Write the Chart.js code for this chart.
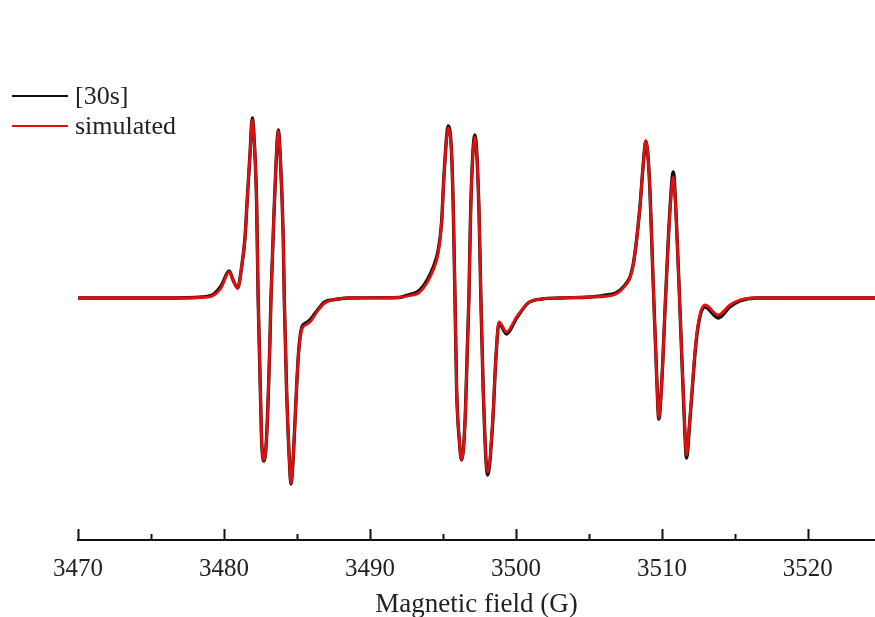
<!DOCTYPE html>
<html>
<head>
<meta charset="utf-8">
<script src="https://cdn.jsdelivr.net/npm/chart.js@4.4.0/dist/chart.umd.min.js"></script>
<style>
  html, body { margin: 0; padding: 0; background: #fff; }
  #wrap { position: relative; width: 875px; height: 617px; }
  #legend {
    position: absolute; left: 12px; top: 81px;
    font-family: "Liberation Serif", "DejaVu Serif", serif;
    font-size: 26px; color: #222; line-height: 30px;
  }
  #legend .row { display: flex; align-items: center; }
  #legend .swatch { width: 56px; height: 0; margin-right: 7px; }
</style>
</head>
<body>
<div id="wrap">
  <canvas id="epr" width="875" height="617"></canvas>
  <div id="legend">
    <div class="row"><span class="swatch" style="border-top:2.5px solid #111"></span>[30s]</div>
    <div class="row"><span class="swatch" style="border-top:2.5px solid #e01010"></span>simulated</div>
  </div>
</div>
<script>
// field positions (G); dense around the lines, sparse on the baseline
const fieldG = [
  3470, 3476, 3478.5, 3479.2, 3479.8, 3480.36, 3480.62, 3480.94, 3481.2, 3481.44,
  3481.6, 3481.78, 3481.94, 3482.1, 3482.24, 3482.34, 3482.57, 3482.74, 3482.92, 3483.15,
  3483.22, 3483.45, 3483.6, 3483.72, 3483.86, 3484.06, 3484.13, 3484.29, 3484.47, 3484.59,
  3484.72, 3484.86, 3485.09, 3485.32, 3485.6, 3485.89, 3486.46, 3486.9, 3487.6, 3488.5,
  3492, 3492.6, 3493.42, 3494.34, 3494.68, 3494.91, 3495.07, 3495.37, 3495.59, 3495.71,
  3495.82, 3495.94, 3496.12, 3496.28, 3496.51, 3496.69, 3496.78, 3496.9, 3497.19, 3497.47,
  3497.6, 3497.76, 3498.06, 3498.4, 3498.63, 3498.84, 3499.36, 3500.05, 3500.84, 3501.8,
  3503, 3505.07, 3505.98, 3507.35, 3508.04, 3508.49, 3508.72, 3508.9, 3509.13, 3509.41,
  3509.64, 3509.79, 3509.98, 3510.27, 3510.55, 3510.78, 3511.0, 3511.28, 3511.51, 3511.69,
  3511.92, 3512.33, 3512.6, 3512.95, 3513.86, 3514.66, 3515.34, 3516.5, 3524.6
];

// measured spectrum [30s] (arbitrary units)
const expSignal = [
  0, 0, 1, 3, 12, 27, 18, 10, 30, 60,
  100, 143, 180, 150, 93, 0, -139, -163, -139, -42,
  0, 93, 145, 168, 140, 60, 0, -92, -159, -186,
  -166, -125, -59, -30, -25, -22, -11, -4, -1.5, 0,
  0.5, 3, 8, 31, 48, 76, 122, 172, 146, 88,
  5, -92, -142, -162, -125, -42, 0, 88, 163, 88,
  0, -92, -177, -127, -60, -25, -36, -20, -5, -1,
  0, 1, 2.5, 11, 34, 90, 133, 157, 123, 13,
  -77, -121, -87, 6, 88, 126, 75, -27, -112, -160,
  -122, -46, -19, -9, -20, -9, -3, 0, 0
];

// simulated spectrum (arbitrary units)
const simSignal = [
  0, 0, 0.5, 2, 10, 26, 18, 10, 30, 60,
  100, 143, 178, 150, 93, 0, -139, -162, -139, -42,
  0, 93, 145, 167, 140, 60, 0, -92, -159, -185,
  -165, -125, -59, -32, -27, -24, -12, -5, -1.5, 0,
  0.5, 2, 6, 28, 45, 75, 121, 170, 145, 88,
  5, -92, -142, -162, -125, -42, 0, 88, 161, 88,
  0, -92, -174, -125, -59, -24, -34, -19, -5, -1,
  0, 1, 1.5, 10, 33, 90, 133, 157, 123, 13,
  -77, -120, -87, 6, 86, 121, 73, -27, -110, -157,
  -120, -44, -17, -7, -17, -7, -2, 0, 0
];

const xMin = 3470, xMax = 3524.6, xStep = 5;
const yMin = -242, yMax = 298;

const toPoints = (vals) => vals.map((v, i) => ({ x: fieldG[i], y: v }));

// ticks drawn inward from the axis line, long on labelled values, short in between
const innerTicks = {
  id: 'innerTicks',
  afterDatasetsDraw(chart) {
    const sx = chart.scales.x;
    const ctx = chart.ctx;
    const base = chart.chartArea.bottom;
    ctx.save();
    ctx.strokeStyle = '#111';
    ctx.lineWidth = 2;
    sx.ticks.forEach((t) => {
      const px = Math.round(sx.getPixelForValue(t.value)) + 0.5;
      const len = t.value % 10 === 0 ? 11 : 6;
      ctx.beginPath();
      ctx.moveTo(px, base);
      ctx.lineTo(px, base - len);
      ctx.stroke();
    });
    ctx.restore();
  },
};

new Chart(document.getElementById('epr'), {
  type: 'line',
  data: {
    datasets: [
      {
        label: 'simulated',
        data: toPoints(simSignal),
        borderColor: '#e01010',
        borderWidth: 2.8,
        pointRadius: 0,
        cubicInterpolationMode: 'monotone',
        order: 1,
      },
      {
        label: '[30s]',
        data: toPoints(expSignal),
        borderColor: '#111',
        borderWidth: 3.4,
        pointRadius: 0,
        cubicInterpolationMode: 'monotone',
        order: 2,
      },
    ],
  },
  options: {
    responsive: false,
    animation: false,
    layout: { padding: { left: 78, right: 0, top: 0, bottom: 0 } },
    plugins: { legend: { display: false }, tooltip: { enabled: false } },
    scales: {
      x: {
        type: 'linear',
        min: xMin,
        max: xMax,
        afterFit: (s) => { s.height = 77; },
        grid: { display: false },
        border: { display: true, color: '#111', width: 2 },
        ticks: {
          stepSize: xStep,
          includeBounds: false,
          autoSkip: false,
          maxRotation: 0,
          padding: 6,
          color: '#222',
          font: { family: 'Liberation Serif', size: 25 },
          callback: (v) => (v % 10 === 0 ? String(v) : ''),
        },
        title: {
          display: true,
          text: 'Magnetic field (G)',
          color: '#222',
          font: { family: 'Liberation Serif', size: 27 },
          padding: { top: 6, bottom: -4 },
        },
      },
      y: {
        display: false,
        min: yMin,
        max: yMax,
      },
    },
  },
  plugins: [innerTicks],
});
</script>
</body>
</html>
